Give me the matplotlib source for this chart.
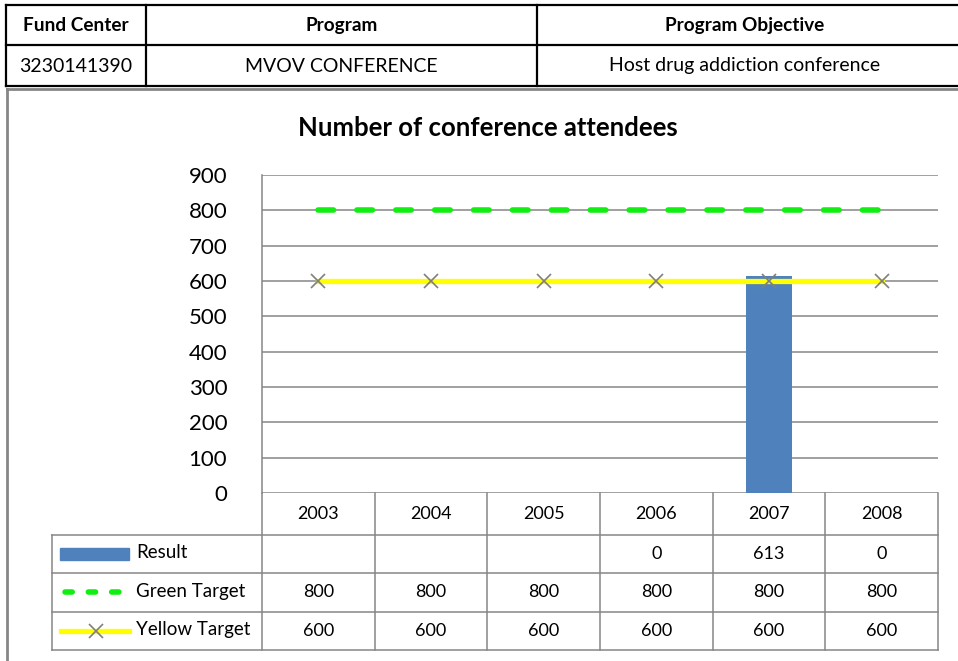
import matplotlib
matplotlib.use('Agg')
import matplotlib.pyplot as plt
import numpy as np
from matplotlib.patches import Rectangle

# ---------------- data ----------------
years = ['2003', '2004', '2005', '2006', '2007', '2008']
result = [None, None, None, 0, 613, 0]
green_target = [800, 800, 800, 800, 800, 800]
yellow_target = [600, 600, 600, 600, 600, 600]
y_ticks = [0, 100, 200, 300, 400, 500, 600, 700, 800, 900]
series_labels = ['Result', 'Green Target', 'Yellow Target']
title = 'Number of conference attendees'
header_cols = ['Fund Center', 'Program', 'Program Objective']
header_vals = ['3230141390', 'MVOV CONFERENCE', 'Host drug addiction conference']

# ---------------- style ----------------
plt.rcParams['font.family'] = ['Lato', 'DejaVu Sans']
GRID = '#868686'
BAR = '#4F81BD'
GREEN = '#11EE11'
YELLOW = '#FFFF00'
MARK = '#7F7F7F'

W, H = 958, 661
fig = plt.figure(figsize=(W / 100, H / 100), dpi=100)


def rect(x0, y0, x1, y1):
    return [x0 / W, 1 - y1 / H, (x1 - x0) / W, (y1 - y0) / H]


# ---------------- header table ----------------
hdr = fig.add_axes([0, 0, 1, 1])
hdr.set_xlim(0, W)
hdr.set_ylim(H, 0)
hdr.axis('off')
col_edges = [6, 146, 537, 962]
row_edges = [5, 45, 86]
for yy in row_edges:
    hdr.plot([col_edges[0], col_edges[-1]], [yy, yy], color='black', lw=1.6, clip_on=False)
for xx in col_edges:
    hdr.plot([xx, xx], [row_edges[0], row_edges[-1]], color='black', lw=1.6, clip_on=False)
for i, (c, v) in enumerate(zip(header_cols, header_vals)):
    cx = (col_edges[i] + min(col_edges[i + 1], W - 5)) / 2
    if i == 2:
        cx = 745
    hdr.text(cx, (row_edges[0] + row_edges[1]) / 2 + 0.5, c, ha='center', va='center',
             fontsize=13.7, fontweight='bold')
    hdr.text(cx, (row_edges[1] + row_edges[2]) / 2 + 0.5, v, ha='center', va='center',
             fontsize=14)
# chart frame
hdr.plot([7, 7], [88.5, H + 5], color=GRID, lw=2.0, clip_on=False)
hdr.plot([7, W + 5], [88.5, 88.5], color=GRID, lw=2.0, clip_on=False)

fig.text(488 / W, 1 - 128 / H, title, ha='center', va='center',
         fontsize=18.5, fontweight='bold')

# ---------------- main chart ----------------
PL, PR, PT, PB = 262, 938, 175, 493
ax = fig.add_axes(rect(PL, PT, PR, PB))
x = np.arange(len(years))
ax.set_xlim(-0.5, len(years) - 0.5)
ax.set_ylim(0, 900)
ax.set_yticks(y_ticks)
ax.set_xticks([])
ax.yaxis.grid(True, color=GRID, lw=1.1)
ax.set_axisbelow(True)
for s in ['top', 'right', 'bottom']:
    ax.spines[s].set_visible(False)
ax.spines['left'].set_color(GRID)
ax.spines['left'].set_linewidth(1.1)
ax.tick_params(axis='y', length=0, pad=25, labelsize=16)
ax.patch.set_alpha(0)

heights = [np.nan if v is None else v for v in result]
ax.bar(x, heights, width=0.41, color=BAR, zorder=2)
ax.plot(x, green_target, color=GREEN, lw=4.0, dashes=(2.8, 4.2),
        dash_capstyle='round', zorder=3)
ax.plot(x, yellow_target, color=YELLOW, lw=3.8, zorder=3)
ax.plot(x, yellow_target, ls='none', marker='x', ms=10, mew=1.2, color=MARK, zorder=4)

# ---------------- data table ----------------
TL, TB = 52, 650
ppu = (PR - PL) / len(years)
xmin = -0.5 - (PL - TL) / ppu
tab = fig.add_axes(rect(TL, PB, PR, TB))
tab.set_xlim(xmin, len(years) - 0.5)
tab.set_ylim(TB, PB)
tab.axis('off')


def px2x(px):
    return xmin + (px - TL) / ppu


rows_y = [PB, 535, 573, 612, TB]
lk = dict(color=GRID, lw=1.1, clip_on=False)
for i in range(len(years) + 1):
    tab.plot([i - 0.5, i - 0.5], [PB, TB], **lk)
tab.plot([xmin, xmin], [rows_y[1], TB], **lk)
for yy in rows_y[1:]:
    tab.plot([xmin, len(years) - 0.5], [yy, yy], **lk)

for i, yr in enumerate(years):
    tab.text(i, (rows_y[0] + rows_y[1]) / 2, yr, ha='center', va='center', fontsize=13)

series_vals = [result, green_target, yellow_target]
for r, vals in enumerate(series_vals):
    yc = (rows_y[r + 1] + rows_y[r + 2]) / 2
    for i, v in enumerate(vals):
        if v is not None:
            tab.text(i, yc, str(v), ha='center', va='center', fontsize=13)
    tab.text(px2x(136), yc - 1, series_labels[r], ha='left', va='center', fontsize=13.5)

# legend keys
y0 = (rows_y[1] + rows_y[2]) / 2
tab.add_patch(Rectangle((px2x(60), y0 - 6), (129 - 60) / ppu, 12, color=BAR, clip_on=False))
y1 = (rows_y[2] + rows_y[3]) / 2
tab.plot([px2x(65), px2x(121)], [y1, y1], color=GREEN, lw=4.0, dashes=(1.3, 2.9),
         dash_capstyle='round', clip_on=False)
y2 = (rows_y[3] + rows_y[4]) / 2
tab.plot([px2x(61), px2x(129)], [y2, y2], color=YELLOW, lw=3.8, clip_on=False)
tab.plot([px2x(96)], [y2], ls='none', marker='x', ms=10, mew=1.2, color=MARK, clip_on=False)

fig.savefig('out.png', dpi=100)
